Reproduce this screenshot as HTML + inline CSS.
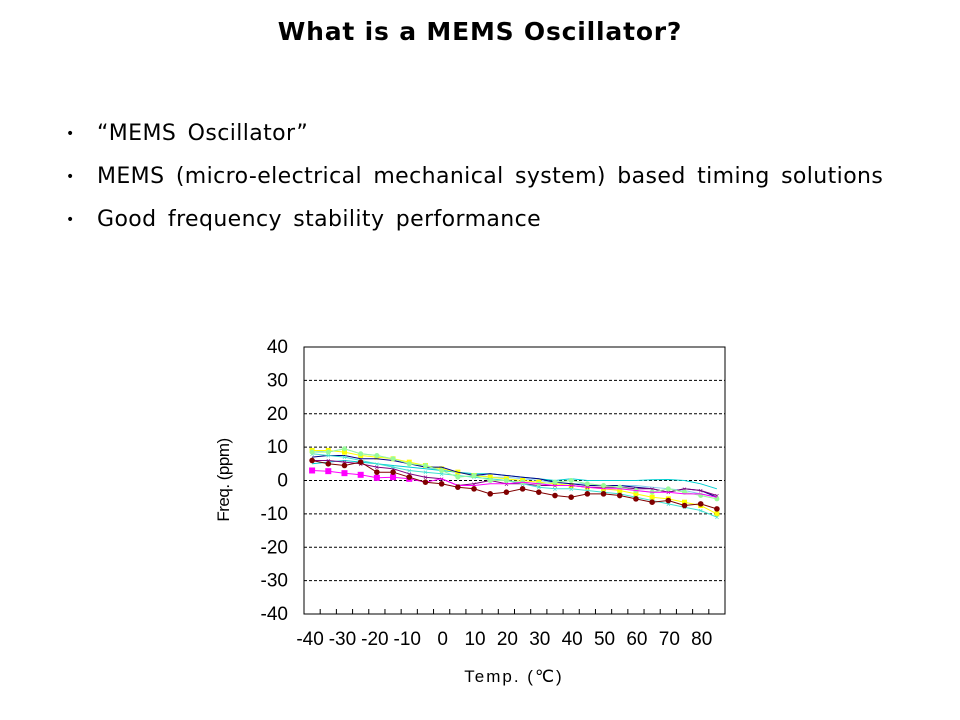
<!DOCTYPE html>
<html><head><meta charset="utf-8"><style>
body{margin:0;width:960px;height:720px;background:#fff;font-family:"Liberation Sans","DejaVu Sans",sans-serif;overflow:hidden;position:relative}
h1{position:absolute;top:17px;left:0;width:960px;text-align:center;font-size:25px;font-weight:bold;margin:0;font-family:"DejaVu Sans",sans-serif;letter-spacing:0.8px}
.b{position:absolute;left:66px;font-size:22px;font-family:"DejaVu Sans",sans-serif;color:#000}
.b span{position:absolute;left:0;font-size:14px;top:5px}
.b i{font-style:normal;position:absolute;left:31px;white-space:nowrap;letter-spacing:0.4px;word-spacing:4px}
</style></head><body>
<h1>What is a MEMS Oscillator?</h1>
<div class="b" style="top:121px"><span>•</span><i>“MEMS Oscillator”</i></div>
<div class="b" style="top:164px"><span>•</span><i>MEMS (micro-electrical mechanical system) based timing solutions</i></div>
<div class="b" style="top:207px"><span>•</span><i>Good frequency stability performance</i></div>
<svg id="c" width="960" height="720" style="position:absolute;left:0;top:0" font-family="Liberation Sans,Arial,sans-serif"></svg>
<script>
var s='',L=304,R=725,T=347,B=614;
function Y(v){return 480.5-v*3.3375}
function X(i){return L+(i+0.5)*(R-L)/26}
for(var v=-30;v<=30;v+=10){s+='<line x1="'+L+'" x2="'+R+'" y1="'+Y(v)+'" y2="'+Y(v)+'" stroke="#000" stroke-dasharray="3,2" stroke-width="1"/>';}
s+='<rect x="'+L+'" y="'+T+'" width="'+(R-L)+'" height="'+(B-T)+'" fill="none" stroke="#000" stroke-width="1"/>';
for(var i=0;i<=26;i++){var x=L+i*(R-L)/26;s+='<line x1="'+x+'" x2="'+x+'" y1="'+B+'" y2="'+(B-5)+'" stroke="#000"/>';}
for(v=-40;v<=40;v+=10)s+='<text x="288" y="'+(Y(v)+6)+'" font-size="19" text-anchor="end">'+v+'</text>';
var lab=['-40','-30','-20','-10','0','10','20','30','40','50','60','70','80'];
for(i=0;i<13;i++)s+='<text x="'+(X(i*2)+(i<4?-2:1))+'" y="645" font-size="19" text-anchor="middle">'+lab[i]+'</text>';
s+='<text x="514" y="682" font-size="17" text-anchor="middle" letter-spacing="2">Temp. (℃)</text>';
s+='<text transform="translate(229,480) rotate(-90)" font-size="17" text-anchor="middle" letter-spacing="-0.5">Freq. (ppm)</text>';
var ser=[
['#87ceeb',[9,8.5,9.5,8,7.5,6.5,5,4,3,2.5,2,1,1,0.5,0,-0.5,-1,-1,-1.5,-1.5,-1.5,-2,-2.5,-3,-4,-5]],
['#00ced1',[5,5.5,6,5.5,5,4.5,4,3.5,3,2.5,2,2,1.5,1,0.5,0,0.5,0,0,0,0,0.2,0.3,0,-1,-2.5]],
['#ffff00',[9,9,8.5,7.5,7,6.5,5.5,4.5,3.5,2.5,1.5,1,0.5,0,-0.5,-1,-1.5,-2,-2.5,-3,-4,-5,-5.5,-6.5,-7.5,-10]],
['#00008b',[7,7.5,7.5,6.5,6.5,6,5,4,4,2.5,1.5,2,1.5,1,0.5,-0.5,-1,-1.5,-1.5,-1.5,-2,-2.5,-3.5,-2.5,-3,-5]],
['#800080',[6,6,5.5,5,4,3.5,2,1,0.5,-1.5,-1,0,-1,-1,-1.5,-1.5,-1.5,-2,-2,-2,-2.5,-2.5,-3.5,-2.5,-3,-4.5]],
['#40e0d0',[8,7.5,7,6,5,4,3,2.5,2,1.5,1,0.5,0,-1,-2,-2.5,-2.5,-3,-3.5,-4,-5,-6,-7,-8,-9,-11]],
['#98fb98',[8.5,8.5,9.5,8,7.5,6.5,5,4.5,3,1,1.5,0,0,-0.5,-1,-0.5,0,-1,-1.5,-2,-3,-3.5,-2.5,-3.5,-4.5,-5.5]],
['#ff00ff',[3,2.8,2.2,1.7,0.8,1,0.5,-0.5,0.5,-1.5,-1.5,-1,-1,-0.5,-1,-1.5,-1.5,-2,-2.5,-2.5,-3,-3.5,-3.5,-4,-4,-5]],
['#800000',[6,5,4.5,5.5,2.5,2.5,1,-0.5,-1,-2,-2.5,-4,-3.5,-2.5,-3.5,-4.5,-5,-4,-4,-4.5,-5.5,-6.5,-6,-7.5,-7,-8.5]]];
ser.forEach(function(q,k){var p=q[1].map(function(v,i){return X(i).toFixed(1)+','+Y(v).toFixed(1)}).join(' ');
s+='<polyline points="'+p+'" fill="none" stroke="'+q[0]+'" stroke-width="1"/>';
q[1].forEach(function(v,i){var x=X(i),y=Y(v);
if(k==8)s+='<circle cx="'+x+'" cy="'+y+'" r="2.8" fill="#800000"/>';
else if(k==7&&i<7)s+='<rect x="'+(x-3)+'" y="'+(y-3)+'" width="6" height="6" fill="#ff00ff"/>';
else if(k==2)s+='<rect x="'+(x-2.5)+'" y="'+(y-2.5)+'" width="5" height="5" fill="#ffff00"/>';
else if(k==6)s+='<circle cx="'+x+'" cy="'+y+'" r="2.5" fill="#98fb98"/>';
else if(k==5||k==4)s+='<text x="'+x+'" y="'+(y+3)+'" font-size="8" fill="'+q[0]+'" text-anchor="middle">×</text>';
});});
document.getElementById('c').innerHTML=s;
</script>
</body></html>
